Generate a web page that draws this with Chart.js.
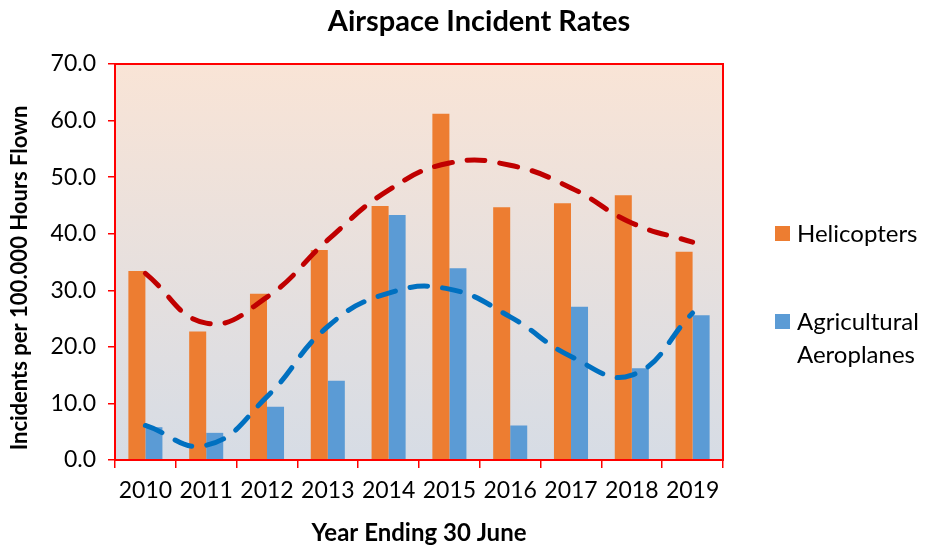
<!DOCTYPE html>
<html>
<head>
<meta charset="utf-8">
<script src="https://cdn.jsdelivr.net/npm/chart.js@4/dist/chart.umd.min.js"></script>
<style>
  html, body { margin: 0; padding: 0; background: #fff; }
  #wrap { width: 925px; height: 550px; position: relative; }
</style>
</head>
<body>
<div id="wrap"><canvas id="airChart" width="925" height="550"></canvas></div>
<script>
const years = ['2010', '2011', '2012', '2013', '2014', '2015', '2016', '2017', '2018', '2019'];
const helicopters = [33.4, 22.7, 29.4, 37.1, 44.9, 61.2, 44.7, 45.4, 46.8, 36.8];
const agricultural = [5.8, 4.8, 9.4, 14.0, 43.3, 33.9, 6.1, 27.1, 16.2, 25.6];
// trend lines (at each year)
const heliTrend = [33.0, 24.2, 28.8, 38.9, 47.7, 52.5, 52.1, 48.1, 41.9, 38.5];
const agriTrend = [6.1, 2.6, 11.2, 23.6, 29.5, 30.2, 25.3, 18.3, 15.0, 26.0];
const yTicks = [0, 10, 20, 30, 40, 50, 60, 70];

const FONT = 'Lato, "Open Sans", sans-serif';

const plotDecor = {
  id: 'plotDecor',
  beforeDraw(chart) {
    const { ctx, chartArea: a } = chart;
    const g = ctx.createLinearGradient(0, a.top, 0, a.bottom);
    g.addColorStop(0, '#f9e4d6');
    g.addColorStop(1, '#d6dce5');
    ctx.save();
    ctx.fillStyle = g;
    ctx.fillRect(a.left, a.top, a.right - a.left, a.bottom - a.top);
    ctx.restore();
  },
  afterDraw(chart) {
    const { ctx, chartArea: a } = chart;
    ctx.save();
    ctx.strokeStyle = '#ff0000';
    ctx.lineWidth = 2;
    ctx.strokeRect(a.left, a.top, a.right - a.left, a.bottom - a.top);

    // title
    ctx.fillStyle = '#000';
    ctx.font = 'bold 29px ' + FONT;
    ctx.textAlign = 'center';
    ctx.textBaseline = 'middle';
    ctx.fillText('Airspace Incident Rates', 479, 22);

    // y axis title
    ctx.save();
    ctx.translate(20, 278);
    ctx.rotate(-Math.PI / 2);
    ctx.font = 'bold 22px ' + FONT;
    ctx.fillText('Incidents per 100.000 Hours Flown', 0, 0);
    ctx.restore();

    // legend
    ctx.font = '24px ' + FONT;
    ctx.textAlign = 'left';
    ctx.fillStyle = '#ed7d31';
    ctx.fillRect(775, 226, 15, 15);
    ctx.fillStyle = '#5b9bd5';
    ctx.fillRect(775, 314, 15, 15);
    ctx.fillStyle = '#000';
    ctx.fillText('Helicopters', 797, 234);
    ctx.fillText('Agricultural', 797, 322);
    ctx.fillText('Aeroplanes', 797, 355);
    ctx.restore();
  }
};

new Chart(document.getElementById('airChart').getContext('2d'), {
  type: 'bar',
  data: {
    labels: years,
    datasets: [
      {
        type: 'line',
        label: 'Helicopters trend',
        data: heliTrend,
        borderColor: '#c00000',
        borderWidth: 5,
        borderDash: [18, 15],
        borderCapStyle: 'round',
        tension: 0.45,
        pointRadius: 0,
        fill: false,
        order: 0
      },
      {
        type: 'line',
        label: 'Agricultural trend',
        data: agriTrend,
        borderColor: '#0070c0',
        borderWidth: 5,
        borderDash: [18, 15],
        borderCapStyle: 'round',
        tension: 0.45,
        pointRadius: 0,
        fill: false,
        order: 0
      },
      {
        label: 'Helicopters',
        data: helicopters,
        backgroundColor: '#ed7d31',
        categoryPercentage: 0.56,
        barPercentage: 1,
        order: 1
      },
      {
        label: 'Agricultural Aeroplanes',
        data: agricultural,
        backgroundColor: '#5b9bd5',
        categoryPercentage: 0.56,
        barPercentage: 1,
        order: 1
      }
    ]
  },
  options: {
    responsive: false,
    animation: false,
    layout: { padding: { top: 64, right: 202, left: 0, bottom: 0 } },
    plugins: {
      legend: { display: false },
      title: { display: false },
      tooltip: { enabled: false }
    },
    scales: {
      x: {
        afterFit: s => { s.height = 90; },
        grid: {
          display: true,
          offset: true,
          drawOnChartArea: false,
          drawTicks: true,
          tickLength: 8,
          color: '#ff0000',
          lineWidth: 1.5
        },
        border: { color: '#ff0000', width: 2 },
        ticks: { color: '#000', font: { family: FONT, size: 23 }, padding: 9, maxRotation: 0 },
        title: {
          display: true,
          text: 'Year Ending 30 June',
          color: '#000',
          font: { family: FONT, size: 24, weight: 'bold' },
          padding: { top: 0, bottom: 2 }
        }
      },
      y: {
        min: 0,
        max: 70,
        afterFit: s => { s.width = 115; },
        afterBuildTicks: s => { s.ticks = yTicks.map(v => ({ value: v })); },
        grid: {
          display: true,
          drawOnChartArea: false,
          drawTicks: true,
          tickLength: 7,
          color: '#ff0000',
          lineWidth: 1.5
        },
        border: { color: '#ff0000', width: 2 },
        ticks: {
          color: '#000',
          font: { family: FONT, size: 23 },
          padding: 12,
          callback: v => Number(v).toFixed(1)
        },
        title: { display: false }
      }
    }
  },
  plugins: [plotDecor]
});
</script>
</body>
</html>
